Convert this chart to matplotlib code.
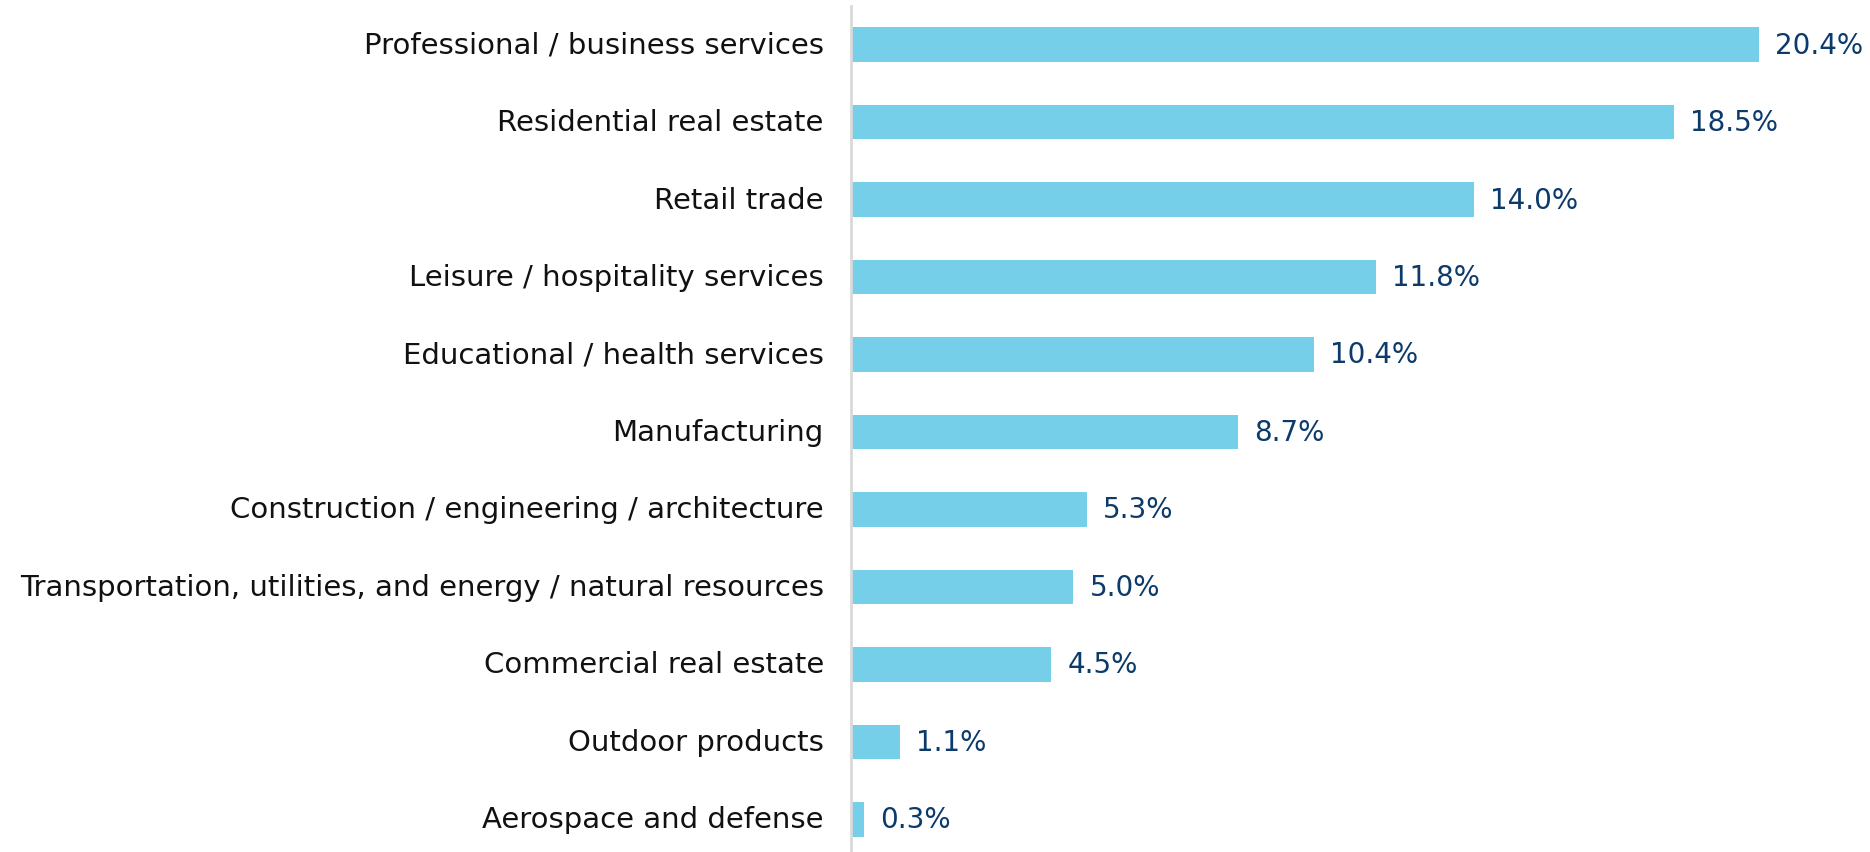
import matplotlib.pyplot as plt

# Data
categories = [
    "Professional / business services",
    "Residential real estate",
    "Retail trade",
    "Leisure / hospitality services",
    "Educational / health services",
    "Manufacturing",
    "Construction / engineering / architecture",
    "Transportation, utilities, and energy / natural resources",
    "Commercial real estate",
    "Outdoor products",
    "Aerospace and defense",
]
values = [20.4, 18.5, 14.0, 11.8, 10.4, 8.7, 5.3, 5.0, 4.5, 1.1, 0.3]

bar_color = "#76CFE8"
label_color = "#0B3A6B"

plt.rcParams["font.family"] = ["DejaVu Sans"]

fig = plt.figure(figsize=(18.7, 8.53), dpi=100)
ax = fig.add_axes([0.455, 0.0, 0.545, 1 - 7 / 853])

y = list(range(len(categories)))
ax.barh(y, values, height=0.45, color=bar_color)

for yi, v in zip(y, values):
    ax.text(v + 0.36, yi, f"{v:.1f}%", va="center", ha="left",
            fontsize=20, color=label_color)

ax.set_yticks(y)
ax.set_yticklabels(categories, fontsize=21, color="#111111", va="center")
ax.tick_params(axis="y", length=0, pad=19.5)
ax.set_xticks([])
ax.set_xlim(0, 22.9)
ax.set_ylim(10.42, -0.497)

for side in ["top", "right", "bottom"]:
    ax.spines[side].set_visible(False)
ax.spines["left"].set_color("#D9D9D9")
ax.spines["left"].set_linewidth(2)

fig.savefig("out.png", dpi=100)
